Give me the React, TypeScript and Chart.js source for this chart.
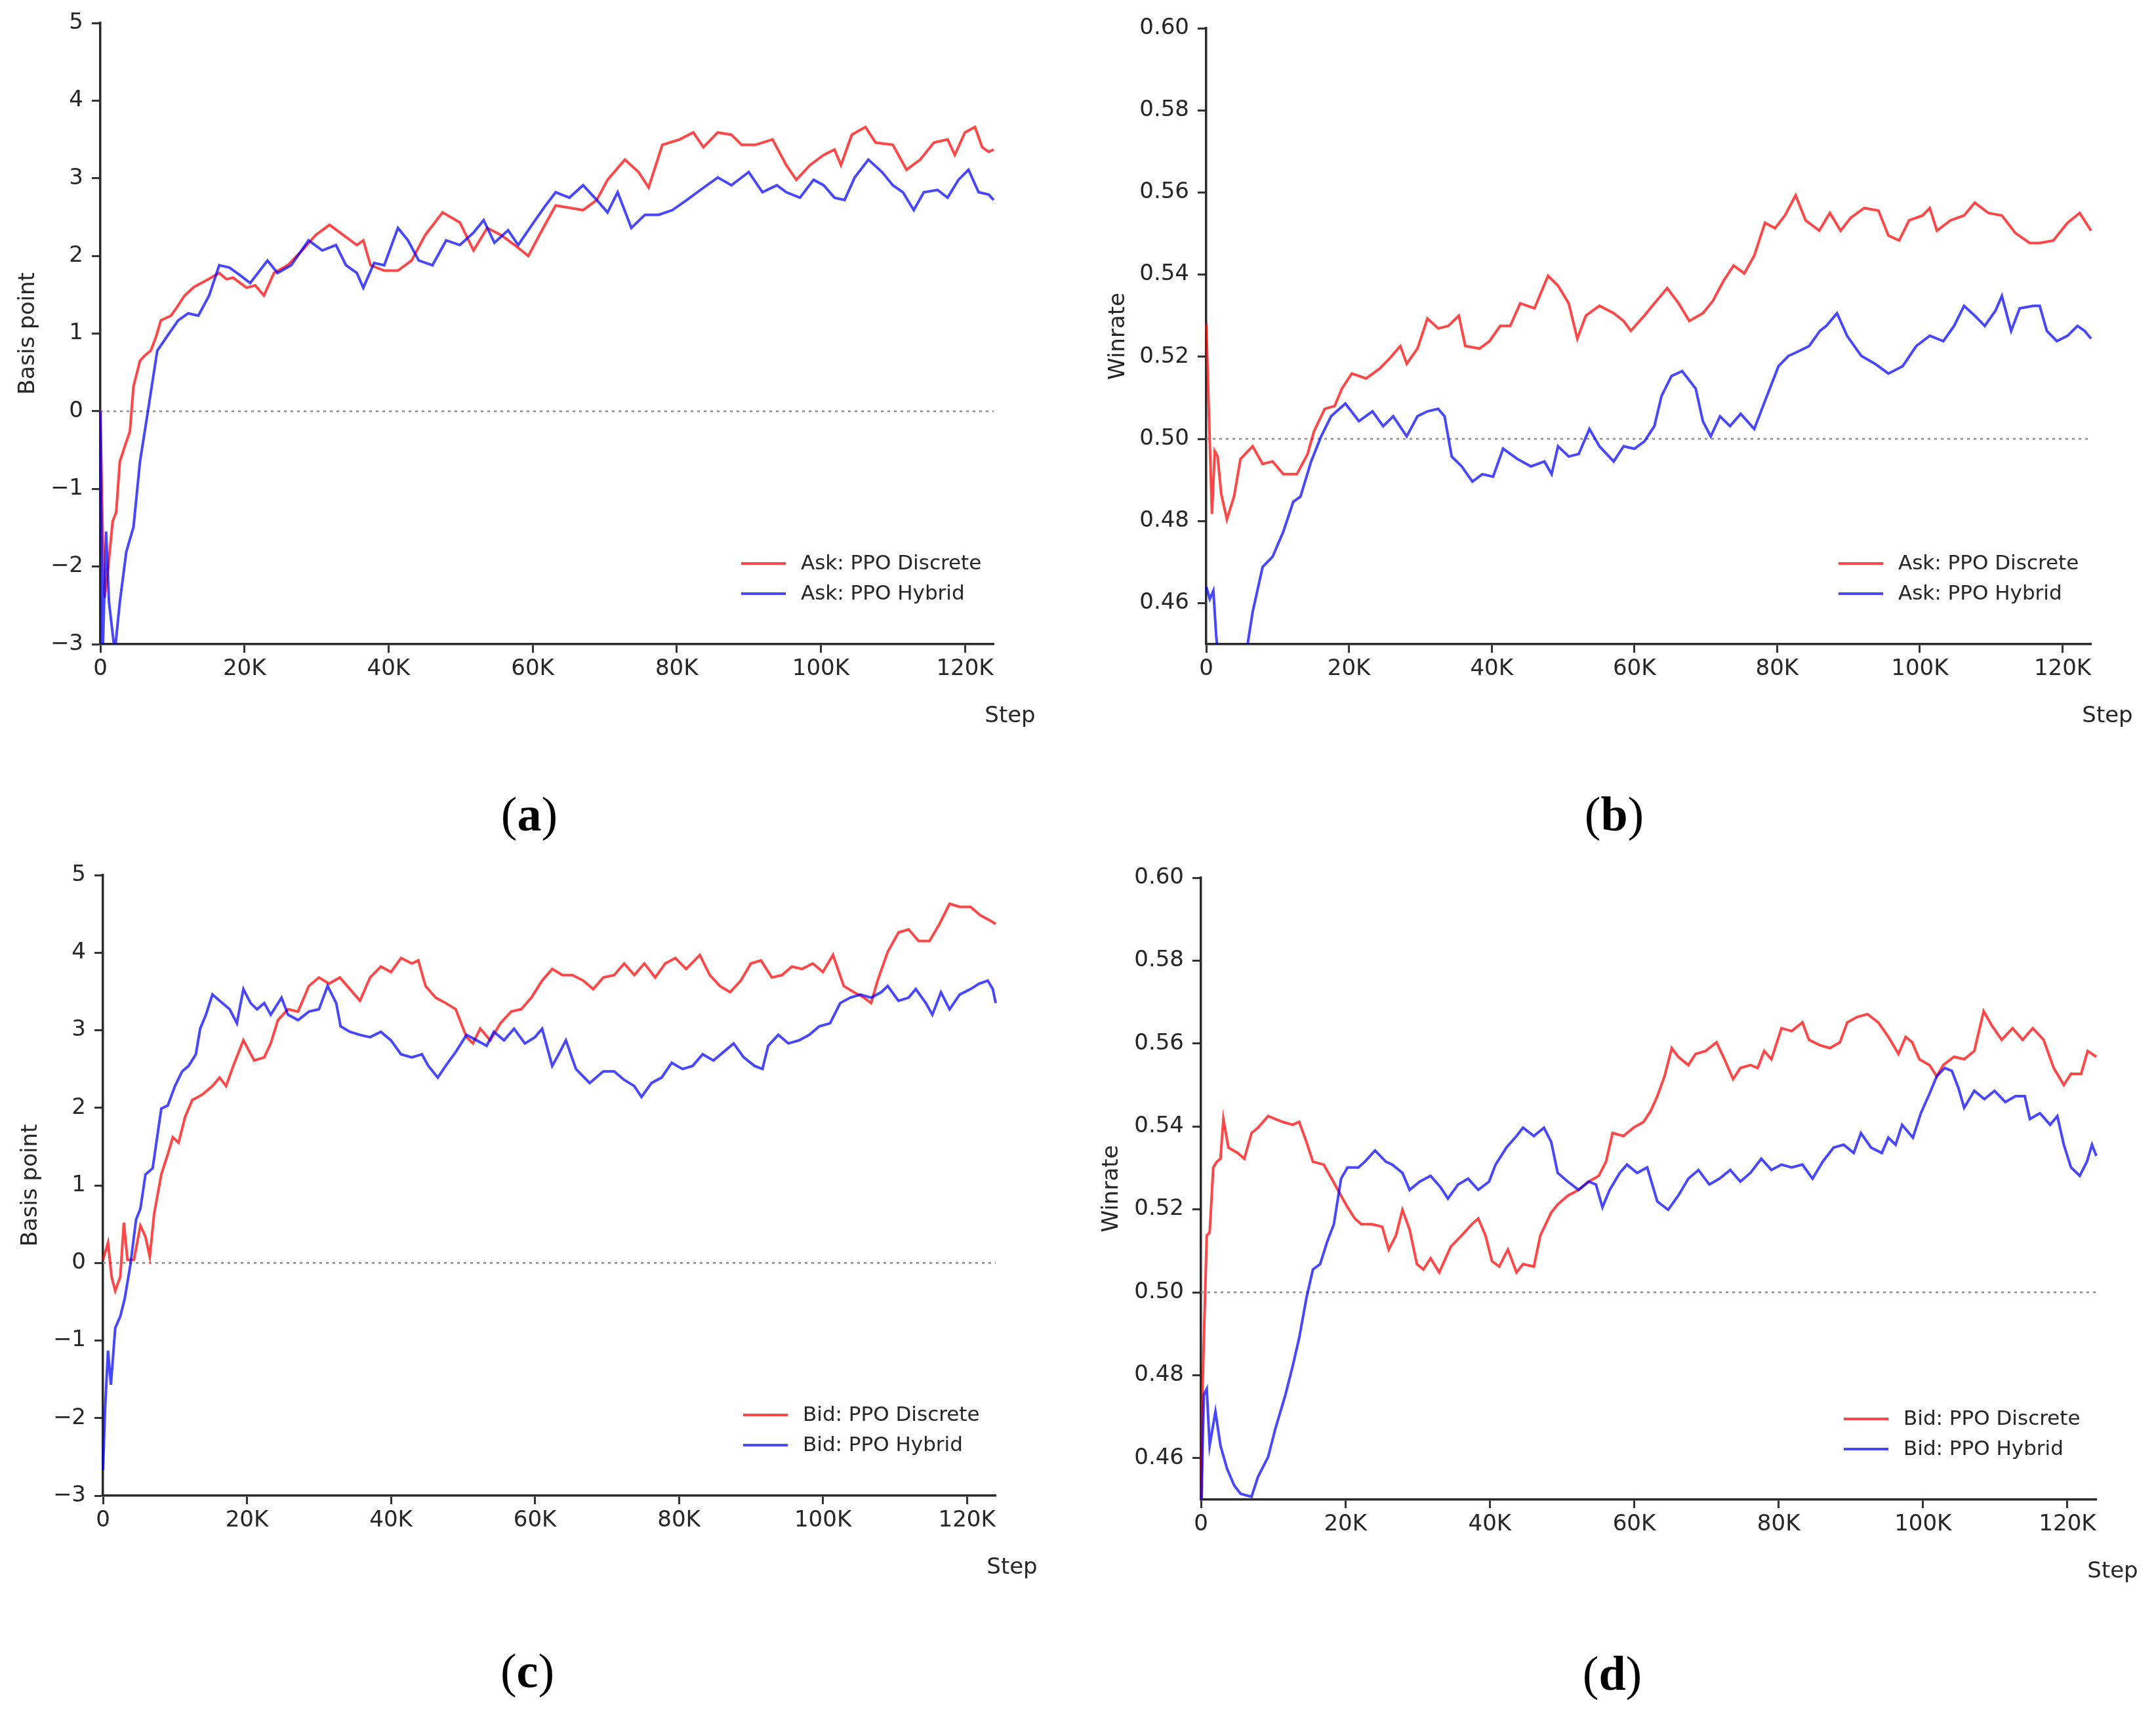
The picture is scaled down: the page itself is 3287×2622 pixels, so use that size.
import React, { useEffect, useRef } from "react";
import { Chart, registerables } from "chart.js";

Chart.register(...registerables);

const FONT = "'DejaVu Sans', 'Liberation Sans', sans-serif";
const RED = "rgba(255,0,0,0.72)";
const BLUE = "rgba(0,0,255,0.72)";
const INK = "#262626";

// x axis (steps)
const stepTicks = [0, 20000, 40000, 60000, 80000, 100000, 120000];
const stepMax = 124000;
// y ticks
const basisTicks = [-3, -2, -1, 0, 1, 2, 3, 4, 5];
const winTicks = [0.46, 0.48, 0.5, 0.52, 0.54, 0.56, 0.58, 0.6];

// ---- (a) Ask, basis point (steps in thousands) ----
const aDiscreteSteps = [0, 0.3, 0.6, 1.0, 1.7, 2.2, 2.7, 3.4, 4.1, 4.6, 5.5, 6.2, 7, 7.7, 8.4, 9.8, 10.7, 11.7, 13, 14.6, 16.5, 17.5, 18.4, 20.3, 21.5, 22.7, 24.1, 26, 28, 29.9, 31.8, 33.7, 35.6, 36.5, 37.5, 39.4, 41.3, 43.2, 45.1, 47.5, 49.9, 51.8, 53.7, 55.6, 57.5, 59.4, 61.3, 63.2, 65.1, 67, 68.9, 70.4, 72.8, 74.7, 76.1, 78, 80.4, 82.3, 83.7, 85.7, 87.6, 89, 90.9, 93.3, 95.2, 96.6, 98.5, 100.4, 101.9, 102.8, 104.3, 106.2, 107.6, 110, 111.9, 113.8, 115.7, 117.6, 118.6, 120, 121.4, 122.4, 123.3, 124];
const aDiscreteVals = [0, -1.5, -2.4, -2.1, -1.42, -1.3, -0.65, -0.45, -0.26, 0.32, 0.65, 0.72, 0.78, 0.95, 1.17, 1.23, 1.35, 1.49, 1.6, 1.68, 1.78, 1.7, 1.72, 1.59, 1.62, 1.49, 1.78, 1.88, 2.07, 2.27, 2.4, 2.27, 2.14, 2.2, 1.88, 1.81, 1.81, 1.94, 2.27, 2.56, 2.43, 2.07, 2.36, 2.27, 2.14, 2.0, 2.33, 2.65, 2.62, 2.59, 2.72, 2.98, 3.24, 3.08, 2.88, 3.43, 3.5, 3.59, 3.4, 3.59, 3.56, 3.43, 3.43, 3.5, 3.17, 2.98, 3.17, 3.3, 3.37, 3.17, 3.56, 3.66, 3.46, 3.43, 3.11, 3.24, 3.46, 3.5, 3.3, 3.59, 3.66, 3.4, 3.34, 3.37];
const aHybridSteps = [0, 0.3, 0.8, 1.2, 2, 2.7, 3.6, 4.6, 5.5, 6.5, 7.9, 9.3, 10.8, 12.2, 13.6, 15.1, 16.5, 17.9, 19.4, 20.8, 23.2, 24.6, 26.5, 28.9, 30.8, 32.7, 34.1, 35.6, 36.5, 38, 39.4, 41.3, 42.7, 44.2, 46.1, 48, 49.9, 51.8, 53.2, 54.7, 56.6, 58, 59.9, 61.8, 63.2, 65.1, 67, 68.9, 70.4, 71.8, 73.7, 75.6, 77.5, 79.4, 81.4, 83.3, 85.7, 87.6, 90, 91.9, 93.9, 95.2, 97.1, 99, 100.4, 101.9, 103.3, 104.7, 106.6, 108.5, 110, 111.4, 112.9, 114.3, 116.2, 117.6, 119.1, 120.5, 121.9, 123.3, 124];
const aHybridVals = [0, -3.2, -1.55, -2.46, -3.1, -2.46, -1.81, -1.49, -0.65, -0.06, 0.78, 0.97, 1.17, 1.26, 1.23, 1.49, 1.88, 1.85, 1.75, 1.65, 1.94, 1.78, 1.88, 2.2, 2.07, 2.14, 1.88, 1.78, 1.59, 1.91, 1.88, 2.36, 2.2, 1.94, 1.88, 2.2, 2.14, 2.3, 2.46, 2.17, 2.33, 2.14, 2.4, 2.65, 2.82, 2.75, 2.91, 2.72, 2.56, 2.82, 2.36, 2.53, 2.53, 2.59, 2.72, 2.85, 3.01, 2.91, 3.08, 2.82, 2.91, 2.82, 2.75, 2.98, 2.91, 2.75, 2.72, 3.01, 3.24, 3.08, 2.91, 2.82, 2.59, 2.82, 2.85, 2.75, 2.98, 3.11, 2.82, 2.79, 2.72];

// ---- (b) Ask, winrate ----
const bDiscreteSteps = [0, 0.4, 0.8, 1.2, 1.6, 2.1, 2.9, 3.9, 4.8, 6.5, 7.9, 9.3, 10.8, 12.7, 14.2, 15.1, 16.6, 18, 19, 20.4, 22.4, 24.3, 25.7, 27.2, 28.1, 29.6, 31, 32.5, 33.9, 35.4, 36.3, 38.3, 39.7, 41.2, 42.6, 44, 46, 47.9, 49.3, 50.8, 52, 53.2, 55.1, 57.1, 58.5, 59.5, 61.4, 62.8, 64.6, 66.2, 67.7, 69.6, 71, 72.5, 73.9, 75.4, 76.8, 78.3, 79.7, 81.1, 82.6, 84, 85.9, 87.4, 88.9, 90.3, 92.2, 94.2, 95.6, 97.1, 98.5, 100.4, 101.4, 102.4, 104.3, 106.2, 107.7, 109.6, 111.5, 113.4, 115.4, 116.8, 118.7, 120.7, 122.4, 124];
const bDiscreteVals = [0.528, 0.505, 0.4817, 0.497, 0.4957, 0.4866, 0.4804, 0.486, 0.4951, 0.4982, 0.4939, 0.4945, 0.4914, 0.4914, 0.4963, 0.5018, 0.5073, 0.508, 0.5122, 0.5159, 0.5147, 0.5171, 0.5196, 0.5226, 0.5183, 0.522, 0.5293, 0.5269, 0.5275, 0.53, 0.5226, 0.522, 0.5238, 0.5275, 0.5275, 0.533, 0.5318, 0.5397, 0.5373, 0.533, 0.5244, 0.53, 0.5324, 0.5306, 0.5287, 0.5263, 0.53, 0.533, 0.5367, 0.533, 0.5287, 0.5306, 0.5336, 0.5385, 0.5422, 0.5403, 0.5446, 0.5526, 0.5513, 0.5544, 0.5593, 0.5532, 0.5507, 0.555, 0.5507, 0.5538, 0.5562, 0.5556, 0.5495, 0.5483, 0.5532, 0.5544, 0.5562, 0.5507, 0.5532, 0.5544, 0.5575, 0.555, 0.5544, 0.5501, 0.5477, 0.5477, 0.5483, 0.5526, 0.555, 0.5507];
const bHybridSteps = [0, 0.5, 1, 1.4, 2, 3.5, 5, 5.8, 6.5, 7.9, 9.3, 10.8, 12.2, 13.2, 14.7, 16.1, 17.5, 19.5, 21.4, 23.3, 24.8, 26.2, 28.1, 29.6, 31, 32.5, 33.4, 34.4, 35.8, 37.3, 38.7, 40.2, 41.6, 43.6, 45.5, 47.4, 48.4, 49.3, 50.8, 52.2, 53.7, 55.1, 57.1, 58.5, 60, 61.4, 62.8, 63.8, 65.2, 66.7, 68.6, 69.6, 70.7, 72, 73.4, 74.9, 76.8, 78.3, 80.2, 81.6, 83.1, 84.5, 86, 86.9, 88.4, 89.8, 91.8, 93.7, 95.6, 97.6, 99.5, 101.4, 103.3, 104.8, 106.2, 107.7, 109.1, 110.6, 111.5, 112.8, 114, 115.9, 116.8, 117.8, 119.2, 120.7, 122.1, 123.1, 124];
const bHybridVals = [0.464, 0.461, 0.463, 0.452, 0.44, 0.435, 0.443, 0.45, 0.4578, 0.4688, 0.4713, 0.4774, 0.4847, 0.4859, 0.4945, 0.5006, 0.5055, 0.5086, 0.5043, 0.5067, 0.5031, 0.5055, 0.5006, 0.5055, 0.5067, 0.5073, 0.5055, 0.4957, 0.4933, 0.4896, 0.4914, 0.4908, 0.4976, 0.4951, 0.4933, 0.4945, 0.4914, 0.4982, 0.4957, 0.4963, 0.5024, 0.4982, 0.4945, 0.4982, 0.4976, 0.4994, 0.5031, 0.5104, 0.5153, 0.5165, 0.5122, 0.5043, 0.5006, 0.5055, 0.5031, 0.5061, 0.5024, 0.5092, 0.5177, 0.5202, 0.5214, 0.5226, 0.5263, 0.5275, 0.5306, 0.5251, 0.5202, 0.5183, 0.5159, 0.5177, 0.5226, 0.5251, 0.5238, 0.5275, 0.5324, 0.53, 0.5275, 0.5312, 0.5348, 0.5263, 0.5318, 0.5324, 0.5324, 0.5263, 0.5238, 0.5251, 0.5275, 0.5263, 0.5244];

// ---- (c) Bid, basis point ----
const cDiscreteSteps = [0, 0.7, 1.2, 1.7, 2.4, 2.9, 3.4, 4.3, 5.2, 5.9, 6.5, 7.1, 8.1, 9, 9.7, 10.5, 11.4, 12.4, 13.8, 15.2, 16.2, 17.1, 18.1, 19.5, 21, 22.4, 23.3, 24.3, 25.7, 27.1, 28.6, 30, 31.4, 32.9, 34.3, 35.7, 37.1, 38.6, 40, 41.4, 42.9, 43.8, 44.8, 46.2, 47.6, 49, 50.5, 51.4, 52.4, 53.8, 55.2, 56.7, 58.1, 59.5, 61, 62.4, 63.8, 65.2, 66.7, 68.1, 69.5, 71, 72.4, 73.8, 75.2, 76.7, 78.1, 79.5, 81, 82.9, 84.3, 85.7, 87.1, 88.6, 90, 91.4, 92.9, 94.3, 95.7, 97.1, 98.6, 100, 101.4, 102.9, 104.3, 105.7, 106.7, 107.6, 109, 110.5, 111.9, 113.3, 114.8, 116.2, 117.6, 119, 120.5, 121.9, 123.3, 124];
const cDiscreteVals = [0.04, 0.26, -0.18, -0.36, -0.18, 0.52, 0.04, 0.04, 0.48, 0.34, 0.08, 0.63, 1.14, 1.4, 1.62, 1.55, 1.88, 2.1, 2.17, 2.28, 2.39, 2.28, 2.54, 2.87, 2.61, 2.65, 2.83, 3.13, 3.27, 3.24, 3.57, 3.68, 3.6, 3.68, 3.53, 3.38, 3.68, 3.82, 3.75, 3.93, 3.86, 3.9, 3.57, 3.42, 3.35, 3.27, 2.91, 2.83, 3.02, 2.87, 3.09, 3.24, 3.27, 3.42, 3.64, 3.79, 3.71, 3.71, 3.64, 3.53, 3.68, 3.71, 3.86, 3.71, 3.86, 3.68, 3.86, 3.93, 3.79, 3.97, 3.71, 3.57, 3.49, 3.64, 3.86, 3.9, 3.68, 3.71, 3.82, 3.79, 3.86, 3.75, 3.97, 3.57, 3.49, 3.42, 3.35, 3.64, 4.01, 4.26, 4.3, 4.15, 4.15, 4.37, 4.63, 4.59, 4.59, 4.48, 4.41, 4.37];
const cHybridSteps = [0, 0.3, 0.7, 1.1, 1.7, 2.4, 3, 3.8, 4.6, 5.2, 5.9, 6.9, 8.1, 9, 10, 11, 11.9, 12.9, 13.5, 14.3, 15.2, 16.2, 17.6, 18.6, 19.5, 20.5, 21.4, 22.4, 23.3, 24.8, 25.7, 27.1, 28.6, 30, 31.2, 32.4, 33, 34.3, 35.7, 37.1, 38.6, 40, 41.4, 42.9, 44.3, 45.2, 46.5, 47.6, 49, 50.5, 51.9, 53.3, 54.3, 55.7, 57.1, 58.6, 60, 61, 62.4, 63.3, 64.3, 65.7, 67.6, 69.5, 71, 72.4, 73.8, 74.8, 76.2, 77.6, 79, 80.5, 81.9, 83.3, 84.8, 86.2, 87.6, 89, 90.5, 91.6, 92.4, 93.8, 95.2, 96.7, 98.1, 99.5, 101, 102.4, 103.8, 105.2, 106.7, 108.1, 109, 110.5, 111.9, 112.9, 114.3, 115.2, 116.4, 117.6, 119, 120.5, 121.7, 122.9, 123.6, 124];
const cHybridVals = [-2.67, -1.86, -1.13, -1.57, -0.84, -0.69, -0.47, -0.03, 0.56, 0.7, 1.14, 1.22, 1.99, 2.03, 2.28, 2.47, 2.54, 2.69, 3.02, 3.2, 3.46, 3.38, 3.27, 3.09, 3.53, 3.35, 3.27, 3.35, 3.2, 3.42, 3.2, 3.13, 3.24, 3.27, 3.57, 3.35, 3.05, 2.98, 2.94, 2.91, 2.98, 2.87, 2.69, 2.65, 2.69, 2.54, 2.39, 2.54, 2.72, 2.94, 2.87, 2.8, 2.98, 2.87, 3.02, 2.83, 2.91, 3.02, 2.54, 2.69, 2.87, 2.5, 2.32, 2.47, 2.47, 2.36, 2.28, 2.14, 2.32, 2.39, 2.58, 2.5, 2.54, 2.69, 2.61, 2.72, 2.83, 2.65, 2.54, 2.5, 2.8, 2.94, 2.83, 2.87, 2.94, 3.05, 3.09, 3.35, 3.42, 3.46, 3.42, 3.49, 3.57, 3.38, 3.42, 3.53, 3.35, 3.2, 3.49, 3.27, 3.46, 3.53, 3.6, 3.64, 3.53, 3.35];

// ---- (d) Bid, winrate ----
const dDiscreteSteps = [0, 0.2, 0.4, 0.8, 1.2, 1.7, 2.2, 2.7, 3.1, 3.8, 5.1, 6, 7, 7.9, 9.3, 11.3, 12.7, 13.6, 14.6, 15.5, 17, 18.1, 19.4, 20.3, 21.3, 22.2, 23.7, 25.1, 26, 27, 27.9, 28.9, 29.9, 30.8, 31.8, 33, 34.6, 36.1, 37.5, 38.4, 39.4, 40.3, 41.3, 42.5, 43.7, 44.6, 46.1, 47, 48.5, 49.4, 50.8, 52.3, 53.7, 55.1, 56.1, 57, 58.5, 59.9, 61.3, 62.3, 63.2, 64.2, 65.2, 66.1, 67.5, 68.5, 69.9, 71.4, 72.5, 73.7, 74.7, 76.1, 77.1, 78, 79, 80.4, 81.8, 83.3, 84.2, 85.7, 87.1, 88.5, 89.5, 90.9, 92.3, 93.8, 95.2, 96.6, 97.6, 98.5, 99.5, 100.9, 101.9, 102.8, 104.3, 105.7, 107.1, 108.4, 109.5, 110.9, 112.4, 113.8, 115.2, 116.7, 118.1, 119.5, 120.5, 121.9, 122.8, 124];
const dDiscreteVals = [0.44, 0.4753, 0.489, 0.5137, 0.5144, 0.5301, 0.5315, 0.5322, 0.5418, 0.5349, 0.5336, 0.5322, 0.5384, 0.5397, 0.5425, 0.5411, 0.5404, 0.5411, 0.5363, 0.5315, 0.5308, 0.5274, 0.5233, 0.5205, 0.5178, 0.5164, 0.5164, 0.5158, 0.5103, 0.5137, 0.5199, 0.5151, 0.5068, 0.5055, 0.5082, 0.5048, 0.511, 0.5137, 0.5164, 0.5178, 0.5137, 0.5075, 0.5062, 0.5103, 0.5048, 0.5068, 0.5062, 0.5137, 0.5192, 0.5212, 0.5233, 0.5247, 0.5267, 0.5281, 0.5315, 0.5384, 0.5377, 0.5397, 0.5411, 0.5438, 0.5473, 0.5521, 0.5589, 0.5568, 0.5548, 0.5575, 0.5582, 0.5603, 0.5562, 0.5514, 0.5541, 0.5548, 0.5541, 0.5582, 0.5562, 0.5637, 0.563, 0.5651, 0.5609, 0.5596, 0.5589, 0.5603, 0.5651, 0.5664, 0.5671, 0.5651, 0.5616, 0.5575, 0.5616, 0.5603, 0.5562, 0.5548, 0.5521, 0.5548, 0.5568, 0.5562, 0.5582, 0.5678, 0.5644, 0.5609, 0.5637, 0.5609, 0.5637, 0.5609, 0.5541, 0.55, 0.5527, 0.5527, 0.5582, 0.5568];
const dHybridSteps = [0, 0.2, 0.4, 0.8, 1.2, 2, 2.7, 3.6, 4.6, 5.5, 7, 7.9, 9.3, 10.3, 11.7, 12.7, 13.6, 14.6, 15.5, 16.5, 17.5, 18.4, 19.4, 20.3, 21.8, 22.7, 24.1, 25.6, 26.5, 27.9, 28.9, 30.3, 31.8, 33.2, 34.2, 35.6, 37, 38.4, 39.9, 40.8, 42.3, 43.7, 44.6, 46.1, 47.5, 48.5, 49.4, 50.8, 52.3, 53.7, 54.7, 55.6, 56.6, 58, 59, 60.4, 61.8, 63.2, 64.7, 66.1, 67.5, 68.9, 70.4, 71.8, 73.3, 74.7, 76.1, 77.6, 79, 80.4, 81.8, 83.3, 84.7, 86.1, 87.6, 89, 90.4, 91.4, 92.8, 94.3, 95.2, 96.2, 97.1, 98.6, 99.7, 100.9, 101.9, 103, 104, 104.9, 105.7, 107.1, 108.5, 109.9, 111.4, 112.8, 114.1, 114.8, 116.2, 117.6, 118.6, 119.5, 120.5, 121.7, 122.7, 123.4, 124];
const dHybridVals = [0.44, 0.4616, 0.4753, 0.4767, 0.463, 0.4712, 0.463, 0.4575, 0.4534, 0.4514, 0.4507, 0.4555, 0.4603, 0.4671, 0.4753, 0.4822, 0.489, 0.4986, 0.5055, 0.5068, 0.5123, 0.5164, 0.5274, 0.5301, 0.5301, 0.5315, 0.5342, 0.5315, 0.5308, 0.5288, 0.5247, 0.5267, 0.5281, 0.5253, 0.5226, 0.526, 0.5274, 0.5247, 0.5267, 0.5308, 0.5349, 0.5377, 0.5397, 0.5377, 0.5397, 0.5363, 0.5288, 0.5267, 0.5247, 0.5267, 0.526, 0.5205, 0.5247, 0.5288, 0.5308, 0.5288, 0.5301, 0.5219, 0.5199, 0.5233, 0.5274, 0.5295, 0.526, 0.5274, 0.5295, 0.5267, 0.5288, 0.5322, 0.5295, 0.5308, 0.5301, 0.5308, 0.5274, 0.5315, 0.5349, 0.5356, 0.5336, 0.5384, 0.5349, 0.5336, 0.5373, 0.5356, 0.5404, 0.5373, 0.5432, 0.5479, 0.5521, 0.5541, 0.5534, 0.5493, 0.5445, 0.5486, 0.5466, 0.5486, 0.5459, 0.5473, 0.5473, 0.5418, 0.5432, 0.5404, 0.5425, 0.5356, 0.5301, 0.5281, 0.5315, 0.5356, 0.5329];

type PanelSpec = {
  key: string;
  caption: string;
  left: number; top: number; w: number; h: number;
  yW: number; padTop: number; padRight: number; xH: number; titlePad: number;
  yTitle: string;
  yMin: number; yMax: number; yTicks: number[]; ref: number;
  fmt: (v: number) => string;
  labels: [string, string];
  disSteps: number[]; disVals: number[];
  hybSteps: number[]; hybVals: number[];
  capX: number; capY: number;
};

const basisFmt = (v: number) => (v < 0 ? "\u2212" + Math.abs(v) : String(v));
const winFmt = (v: number) => v.toFixed(2);

const panels: PanelSpec[] = [
  {
    key: "a", caption: "a", left: 0, top: 0, w: 1640, h: 1180,
    yW: 153, padTop: 35, padRight: 125, xH: 198, titlePad: 23,
    yTitle: "Basis point", yMin: -3, yMax: 5, yTicks: basisTicks, ref: 0, fmt: basisFmt,
    labels: ["Ask: PPO Discrete", "Ask: PPO Hybrid"],
    disSteps: aDiscreteSteps, disVals: aDiscreteVals, hybSteps: aHybridSteps, hybVals: aHybridVals,
    capX: 807, capY: 1247,
  },
  {
    key: "b", caption: "b", left: 1640, top: 0, w: 1647, h: 1180,
    yW: 199, padTop: 43, padRight: 99, xH: 198, titlePad: 45,
    yTitle: "Winrate", yMin: 0.45, yMax: 0.6, yTicks: winTicks, ref: 0.5, fmt: winFmt,
    labels: ["Ask: PPO Discrete", "Ask: PPO Hybrid"],
    disSteps: bDiscreteSteps, disVals: bDiscreteVals, hybSteps: bHybridSteps, hybVals: bHybridVals,
    capX: 2461, capY: 1247,
  },
  {
    key: "c", caption: "c", left: 0, top: 1250, w: 1640, h: 1200,
    yW: 157, padTop: 84, padRight: 122, xH: 170, titlePad: 27,
    yTitle: "Basis point", yMin: -3, yMax: 5, yTicks: basisTicks, ref: 0, fmt: basisFmt,
    labels: ["Bid: PPO Discrete", "Bid: PPO Hybrid"],
    disSteps: cDiscreteSteps, disVals: cDiscreteVals, hybSteps: cHybridSteps, hybVals: cHybridVals,
    capX: 804, capY: 2553,
  },
  {
    key: "d", caption: "d", left: 1640, top: 1250, w: 1647, h: 1200,
    yW: 191, padTop: 88, padRight: 91, xH: 164, titlePad: 35,
    yTitle: "Winrate", yMin: 0.45, yMax: 0.6, yTicks: winTicks, ref: 0.5, fmt: winFmt,
    labels: ["Bid: PPO Discrete", "Bid: PPO Hybrid"],
    disSteps: dDiscreteSteps, disVals: dDiscreteVals, hybSteps: dHybridSteps, hybVals: dHybridVals,
    capX: 2458, capY: 2557,
  },
];

const toPoints = (steps: number[], vals: number[]) =>
  steps.map((s, i) => ({ x: s * 1000, y: vals[i] }));

function decorPlugin(p: PanelSpec) {
  return {
    id: "decor_" + p.key,
    afterDraw(chart: any) {
      const { ctx, chartArea: ca } = chart;
      ctx.save();
      ctx.fillStyle = INK;
      ctx.textBaseline = "middle";
      ctx.font = `34px ${FONT}`;
      ctx.textAlign = "center";
      ctx.fillText("Step", ca.right + 25, ca.bottom + 110);
      const rows: [string, string][] = [
        [RED, p.labels[0]],
        [BLUE, p.labels[1]],
      ];
      rows.forEach(([c, t], i) => {
        const y = ca.bottom - 123 + i * 46;
        ctx.strokeStyle = c;
        ctx.lineWidth = 4;
        ctx.beginPath();
        ctx.moveTo(ca.right - 385, y);
        ctx.lineTo(ca.right - 317, y);
        ctx.stroke();
        ctx.font = `31px ${FONT}`;
        ctx.textAlign = "left";
        ctx.fillStyle = INK;
        ctx.fillText(t, ca.right - 294, y + 1);
      });
      ctx.restore();
    },
  };
}

function buildConfig(p: PanelSpec): any {
  const lineBase = {
    pointRadius: 0,
    borderWidth: 4,
    tension: 0,
    fill: false,
    clip: { left: 3, right: 3, top: 3, bottom: 0 },
  };
  const axisCommon = {
    grid: {
      drawOnChartArea: false,
      drawTicks: true,
      tickLength: 13,
      tickWidth: 3,
      tickColor: "#333",
    },
    border: { display: true, color: "#2a2a2a", width: 3.5 },
  };
  return {
    type: "line",
    data: {
      datasets: [
        { ...lineBase, label: p.labels[1], data: toPoints(p.hybSteps, p.hybVals), borderColor: BLUE, order: 0 },
        { ...lineBase, label: p.labels[0], data: toPoints(p.disSteps, p.disVals), borderColor: RED, order: 1 },
        {
          ...lineBase,
          label: "reference",
          data: [{ x: 0, y: p.ref }, { x: stepMax, y: p.ref }],
          borderColor: "#8c8c8c",
          borderWidth: 2.5,
          borderDash: [4, 6],
          order: 2,
        },
      ],
    },
    options: {
      animation: false,
      responsive: false,
      devicePixelRatio: 1,
      events: [],
      layout: {
        autoPadding: false,
        padding: { left: 0, top: p.padTop, right: p.padRight, bottom: 0 },
      },
      plugins: { legend: { display: false }, tooltip: { enabled: false } },
      scales: {
        x: {
          ...axisCommon,
          type: "linear",
          min: 0,
          max: stepMax,
          afterBuildTicks: (s: any) => {
            s.ticks = stepTicks.map((v) => ({ value: v }));
          },
          afterFit: (s: any) => {
            s.height = p.xH;
          },
          ticks: {
            autoSkip: false,
            maxRotation: 0,
            padding: 5,
            color: INK,
            font: { family: FONT, size: 34 },
            callback: (v: number) => (v === 0 ? "0" : v / 1000 + "K"),
          },
        },
        y: {
          ...axisCommon,
          type: "linear",
          min: p.yMin,
          max: p.yMax,
          afterBuildTicks: (s: any) => {
            s.ticks = p.yTicks.map((v) => ({ value: v }));
          },
          afterFit: (s: any) => {
            s.width = p.yW;
          },
          title: {
            display: true,
            text: p.yTitle,
            color: INK,
            font: { family: FONT, size: 34 },
            padding: { top: p.titlePad, bottom: 0 },
          },
          ticks: {
            autoSkip: false,
            padding: 13,
            color: INK,
            font: { family: FONT, size: 34 },
            callback: (v: number) => p.fmt(v),
          },
        },
      },
    },
    plugins: [decorPlugin(p)],
  };
}

function Panel({ spec }: { spec: PanelSpec }) {
  const ref = useRef<HTMLCanvasElement>(null);
  useEffect(() => {
    if (!ref.current) return;
    const chart = new Chart(ref.current, buildConfig(spec));
    return () => chart.destroy();
  }, [spec]);
  return (
    <canvas
      ref={ref}
      width={spec.w}
      height={spec.h}
      style={{ position: "absolute", left: spec.left, top: spec.top, width: spec.w, height: spec.h }}
    />
  );
}

export default function App() {
  return (
    <div
      style={{
        position: "absolute",
        left: 0,
        top: 0,
        width: 3287,
        height: 2622,
        background: "#ffffff",
        overflow: "hidden",
      }}
    >
      {panels.map((p) => (
        <Panel key={p.key} spec={p} />
      ))}
      {panels.map((p) => (
        <div
          key={"cap" + p.key}
          style={{
            position: "absolute",
            left: p.capX,
            top: p.capY - 6,
            transform: "translate(-50%, -50%)",
            fontFamily: "'Liberation Serif', 'Times New Roman', serif",
            fontSize: 74,
            lineHeight: 1,
            color: "#000",
            whiteSpace: "nowrap",
          }}
        >
          (<b>{p.caption}</b>)
        </div>
      ))}
    </div>
  );
}
